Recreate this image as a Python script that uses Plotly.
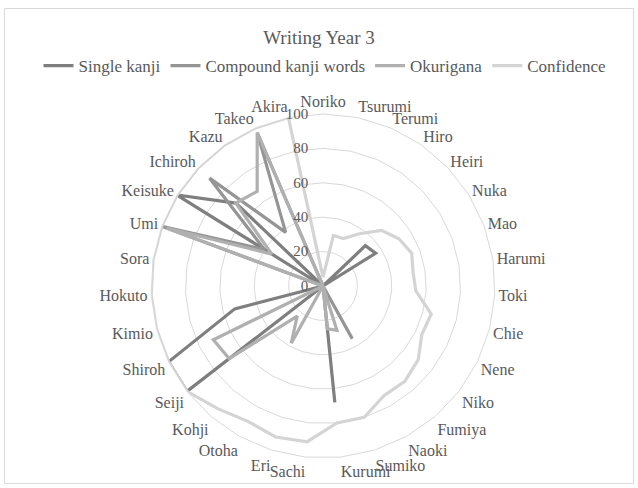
import plotly.graph_objects as go

categories = ["Noriko", "Tsurumi", "Terumi", "Hiro", "Heiri", "Nuka", "Mao", "Harumi",
              "Toki", "Chie", "Nene", "Niko", "Fumiya", "Naoki", "Sumiko", "Kurumi",
              "Sachi", "Eri", "Otoha", "Kohji", "Seiji", "Shiroh", "Kimio", "Hokuto",
              "Sora", "Umi", "Keisuke", "Ichiroh", "Kazu", "Takeo", "Akira"]

single_kanji = [0, 0, 0, 0, 34, 36, 0, 0, 0, 0, 0, 0, 0, 0, 0, 68,
                0, 0, 0, 0, 100, 100, 53, 0, 0, 0, 100, 70, 0, 0, 0]
compound_kanji = [0, 0, 0, 0, 0, 0, 0, 0, 0, 0, 0, 0, 0, 35, 0, 0,
                  0, 0, 0, 0, 0, 0, 0, 0, 0, 100, 40, 91, 38, 97, 0]
okurigana = [0, 0, 0, 0, 0, 0, 0, 0, 0, 0, 0, 0, 0, 0, 27, 25,
             0, 0, 38, 23, 69, 71, 0, 0, 0, 97, 35, 70, 67, 97, 0]
confidence = [5, 30, 30, 37, 47, 52, 55, 53, 54, 65, 64, 70, 73, 73, 80, 80,
              91, 92, 90, 94, 100, 100, 100, 100, 100, 100, 100, 100, 100, 100, 100]

series_names = ["Single kanji", "Compound kanji words", "Okurigana", "Confidence"]
series_values = [single_kanji, compound_kanji, okurigana, confidence]
series_colors = ["#7f7f7f", "#959595", "#b0b0b0", "#d4d4d4"]

W, H = 638, 488
cx, cy, R = 323, 286, 172
FONT = "Liberation Serif"
TXT = "#595959"

fig = go.Figure()
for name, vals, col in zip(series_names, series_values, series_colors):
    fig.add_trace(go.Scatterpolar(
        r=vals + [vals[0]], theta=categories + [categories[0]],
        mode="lines", name=name,
        line=dict(color=col, width=3.2),
        hoverinfo="skip"))

fig.update_layout(
    width=W, height=H,
    margin=dict(l=0, r=0, t=0, b=0),
    paper_bgcolor="white",
    font=dict(family=FONT, color=TXT),
    title=dict(text="Writing Year 3", x=0.5, xanchor="center",
               y=1 - 37 / H, yanchor="middle",
               font=dict(size=19, family=FONT, color=TXT)),
    legend=dict(orientation="h", x=0.5 + 6 / W, xanchor="center",
                y=1 - 66 / H, yanchor="middle",
                font=dict(size=17, family=FONT, color=TXT),
                itemwidth=30, tracegroupgap=0),
    polar=dict(
        domain=dict(x=[(cx - R) / W, (cx + R) / W],
                    y=[(H - cy - R) / H, (H - cy + R) / H]),
        bgcolor="white",
        gridshape="linear",
        angularaxis=dict(direction="clockwise", rotation=90,
                         showgrid=False, showline=True,
                         linecolor="#d9d9d9", linewidth=1, ticks="", ticklen=0,
                         tickfont=dict(size=16, family=FONT, color=TXT)),
        radialaxis=dict(range=[0, 100], dtick=20, showline=False,
                        ticks="outside", ticklen=9, tickcolor="rgba(0,0,0,0)",
                        gridcolor="#d9d9d9", gridwidth=1, angle=90, tickangle=90,
                        side="counterclockwise",
                        tickfont=dict(size=15, family=FONT, color=TXT)),
    ),
    shapes=[dict(type="rect", xref="paper", yref="paper",
                 x0=4.5 / W, x1=633.5 / W, y0=1 - 483.5 / H, y1=1 - 8.5 / H,
                 line=dict(color="#d9d9d9", width=1), fillcolor="rgba(0,0,0,0)",
                 layer="below")],
)

fig.write_html("out.html", config={"displayModeBar": False},
               post_script="document.body.style.margin='0';document.body.style.overflow='hidden';")
